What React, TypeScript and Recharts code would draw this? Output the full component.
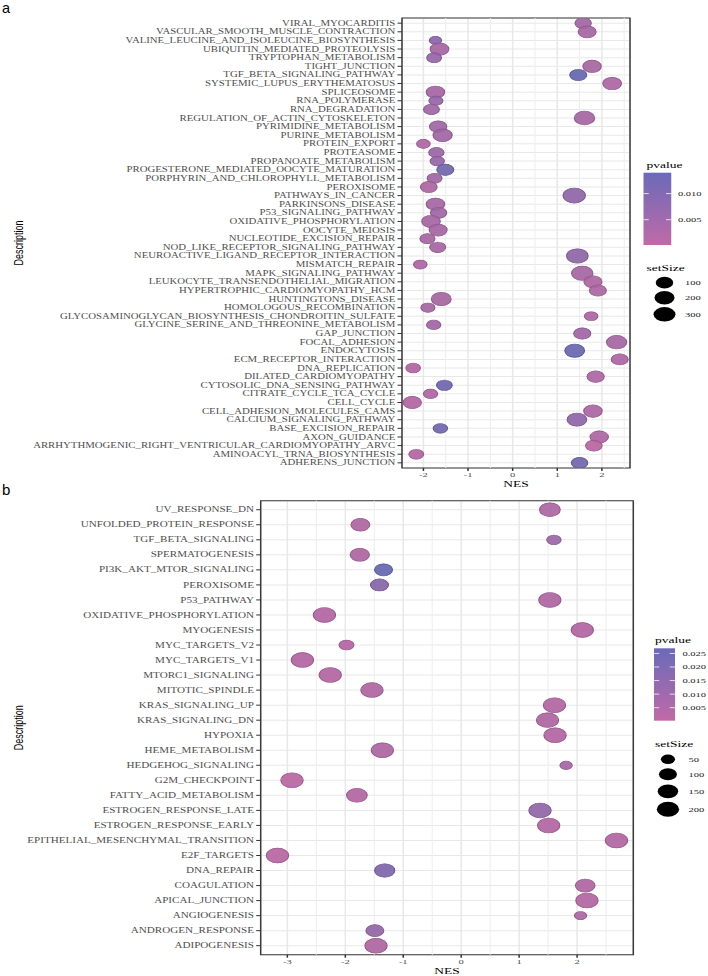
import React from 'react';
import {
  ScatterChart, Scatter, XAxis, YAxis, ZAxis, CartesianGrid, ReferenceLine, ReferenceArea, Cell,
} from 'recharts';

// ---- panel a : KEGG ----
const termsA = [
  'VIRAL_MYOCARDITIS', 'VASCULAR_SMOOTH_MUSCLE_CONTRACTION', 'VALINE_LEUCINE_AND_ISOLEUCINE_BIOSYNTHESIS',
  'UBIQUITIN_MEDIATED_PROTEOLYSIS', 'TRYPTOPHAN_METABOLISM', 'TIGHT_JUNCTION', 'TGF_BETA_SIGNALING_PATHWAY',
  'SYSTEMIC_LUPUS_ERYTHEMATOSUS', 'SPLICEOSOME', 'RNA_POLYMERASE', 'RNA_DEGRADATION',
  'REGULATION_OF_ACTIN_CYTOSKELETON', 'PYRIMIDINE_METABOLISM', 'PURINE_METABOLISM', 'PROTEIN_EXPORT',
  'PROTEASOME', 'PROPANOATE_METABOLISM', 'PROGESTERONE_MEDIATED_OOCYTE_MATURATION',
  'PORPHYRIN_AND_CHLOROPHYLL_METABOLISM', 'PEROXISOME', 'PATHWAYS_IN_CANCER', 'PARKINSONS_DISEASE',
  'P53_SIGNALING_PATHWAY', 'OXIDATIVE_PHOSPHORYLATION', 'OOCYTE_MEIOSIS', 'NUCLEOTIDE_EXCISION_REPAIR',
  'NOD_LIKE_RECEPTOR_SIGNALING_PATHWAY', 'NEUROACTIVE_LIGAND_RECEPTOR_INTERACTION', 'MISMATCH_REPAIR',
  'MAPK_SIGNALING_PATHWAY', 'LEUKOCYTE_TRANSENDOTHELIAL_MIGRATION', 'HYPERTROPHIC_CARDIOMYOPATHY_HCM',
  'HUNTINGTONS_DISEASE', 'HOMOLOGOUS_RECOMBINATION', 'GLYCOSAMINOGLYCAN_BIOSYNTHESIS_CHONDROITIN_SULFATE',
  'GLYCINE_SERINE_AND_THREONINE_METABOLISM', 'GAP_JUNCTION', 'FOCAL_ADHESION', 'ENDOCYTOSIS',
  'ECM_RECEPTOR_INTERACTION', 'DNA_REPLICATION', 'DILATED_CARDIOMYOPATHY', 'CYTOSOLIC_DNA_SENSING_PATHWAY',
  'CITRATE_CYCLE_TCA_CYCLE', 'CELL_CYCLE', 'CELL_ADHESION_MOLECULES_CAMS', 'CALCIUM_SIGNALING_PATHWAY',
  'BASE_EXCISION_REPAIR', 'AXON_GUIDANCE', 'ARRHYTHMOGENIC_RIGHT_VENTRICULAR_CARDIOMYOPATHY_ARVC',
  'AMINOACYL_TRNA_BIOSYNTHESIS', 'ADHERENS_JUNCTION',
];
const nesA = [
  1.58, 1.67, -1.73, -1.64, -1.76, 1.78, 1.47, 2.23, -1.73, -1.72, -1.82, 1.61, -1.67, -1.57, -2.0,
  -1.71, -1.69, -1.51, -1.75, -1.88, 1.38, -1.73, -1.66, -1.83, -1.67, -1.91, -1.68, 1.45, -2.07,
  1.56, 1.8, 1.91, -1.6, -1.9, 1.76, -1.77, 1.56, 2.33, 1.39, 2.4, -2.23, 1.86, -1.53, -1.84, -2.25,
  1.8, 1.44, -1.62, 1.94, 1.82, -2.16, 1.5,
];
const setSizeA = [
  70, 115, 11, 138, 40, 132, 86, 140, 127, 29, 59, 216, 98, 159, 24, 48, 33, 86, 42, 78, 328, 130,
  68, 135, 113, 44, 62, 272, 23, 267, 118, 85, 185, 28, 22, 31, 90, 201, 183, 84, 36, 92, 56, 32,
  128, 134, 178, 35, 129, 76, 41, 75,
];
const pvalueA = [
  0.004, 0.003, 0.008, 0.003, 0.006, 0.003, 0.014, 0.002, 0.003, 0.006, 0.004, 0.003, 0.004, 0.004,
  0.002, 0.005, 0.006, 0.012, 0.004, 0.002, 0.007, 0.003, 0.004, 0.003, 0.003, 0.003, 0.003, 0.007,
  0.002, 0.003, 0.002, 0.002, 0.003, 0.003, 0.002, 0.004, 0.004, 0.003, 0.0135, 0.002, 0.001, 0.002,
  0.0125, 0.002, 0.001, 0.002, 0.007, 0.012, 0.002, 0.00015, 0.001, 0.012,
];
const nesTicksA = [-2, -1, 0, 1, 2];
const minorTicksA = [-1.5, -0.5, 0.5, 1.5, 2.5];
const pTicksA = [0.005, 0.01];
const sizeTicksA = [100, 200, 300];

// ---- panel b : HALLMARK ----
const termsB = [
  'UV_RESPONSE_DN', 'UNFOLDED_PROTEIN_RESPONSE', 'TGF_BETA_SIGNALING', 'SPERMATOGENESIS',
  'PI3K_AKT_MTOR_SIGNALING', 'PEROXISOME', 'P53_PATHWAY', 'OXIDATIVE_PHOSPHORYLATION', 'MYOGENESIS',
  'MYC_TARGETS_V2', 'MYC_TARGETS_V1', 'MTORC1_SIGNALING', 'MITOTIC_SPINDLE', 'KRAS_SIGNALING_UP',
  'KRAS_SIGNALING_DN', 'HYPOXIA', 'HEME_METABOLISM', 'HEDGEHOG_SIGNALING', 'G2M_CHECKPOINT',
  'FATTY_ACID_METABOLISM', 'ESTROGEN_RESPONSE_LATE', 'ESTROGEN_RESPONSE_EARLY',
  'EPITHELIAL_MESENCHYMAL_TRANSITION', 'E2F_TARGETS', 'DNA_REPAIR', 'COAGULATION', 'APICAL_JUNCTION',
  'ANGIOGENESIS', 'ANDROGEN_RESPONSE', 'ADIPOGENESIS',
];
const nesB = [
  1.53, -1.74, 1.6, -1.75, -1.34, -1.41, 1.53, -2.36, 2.09, -1.98, -2.74, -2.26, -1.54, 1.61, 1.49,
  1.62, -1.36, 1.81, -2.92, -1.8, 1.36, 1.51, 2.68, -3.17, -1.32, 2.14, 2.17, 2.06, -1.49, -1.47,
];
const setSizeB = [
  155, 115, 52, 125, 100, 100, 195, 198, 195, 58, 198, 196, 196, 195, 190, 196, 195, 35, 196, 155,
  195, 195, 198, 198, 145, 130, 195, 35, 98, 195,
];
const pvalueB = [
  0.004, 0.003, 0.009, 0.003, 0.0269, 0.016, 0.003, 0.002, 0.002, 0.002, 0.002, 0.002, 0.003, 0.002,
  0.003, 0.002, 0.004, 0.006, 0.0002, 0.002, 0.013, 0.002, 0.002, 0.0002, 0.019, 0.003, 0.002, 0.004,
  0.012, 0.003,
];
const nesTicksB = [-3, -2, -1, 0, 1, 2];
const minorTicksB = [-2.5, -1.5, -0.5, 0.5, 1.5, 2.5];
const pTicksB = [0.005, 0.01, 0.015, 0.02, 0.025];
const sizeTicksB = [50, 100, 150, 200];

const SERIF = "'Liberation Serif', 'Times New Roman', serif";
const SANS = "'Liberation Sans', Arial, sans-serif";
const LOW = [192, 106, 168];
const HIGH = [106, 106, 184];
const STRETCH = 1.5;

function mix(t: number, k = 1) {
  const c = LOW.map((lo, i) => Math.round((lo + (HIGH[i] - lo) * t) * k));
  return `rgb(${c[0]},${c[1]},${c[2]})`;
}

interface PanelProps {
  id: string;
  terms: string[];
  nes: number[];
  sizes: number[];
  pvals: number[];
  xDomain: [number, number];
  xTicks: number[];
  minorTicks: number[];
  pTicks: number[];
  sizeTicks: number[];
  height: number;
  top: number;
  right: number;
  yWidth: number;
  xHeight: number;
  labelFont: number;
  nesOffset: number;
  sizeA: number;
  sizeB: number;
  lg: {
    x: number; pTitle: number; barX: number; barW: number; barTop: number; barBottom: number;
    labelX: number; sTitle: number; keyX: number; keyY: number[]; keyLabelX: number;
  };
}

function Panel(p: PanelProps) {
  const n = p.terms.length;
  const points = p.terms.map((term, i) => ({
    term, nes: p.nes[i], row: n - 1 - i, setSize: p.sizes[i], pvalue: p.pvals[i],
  }));
  const rows = points.map((d) => d.row).sort((a, b) => a - b);
  const pMin = Math.min(...p.pvals);
  const pMax = Math.max(...p.pvals);
  const zDomain = [Math.min(...p.sizes), Math.max(...p.sizes)];
  const area = (s: number) => Math.PI * (p.sizeA + p.sizeB * Math.sqrt(s));
  const zRange = [area(zDomain[0]), area(zDomain[1])];
  const keyR = (s: number) => Math.sqrt(area(s) / Math.PI);
  const W = 708 / STRETCH;
  const { lg } = p;
  const barY = (v: number) => lg.barBottom - ((v - pMin) / (pMax - pMin)) * (lg.barBottom - lg.barTop);

  return (
    <div style={{ position: 'relative', width: W, height: p.height, transform: `scaleX(${STRETCH})`, transformOrigin: '0 0' }}>
      <ScatterChart width={W} height={p.height} margin={{ top: p.top, right: p.right, bottom: 0, left: 0 }}>
        <CartesianGrid stroke="#E8E8E8" strokeWidth={1} />
        {p.minorTicks.map((v) => (
          <ReferenceLine key={v} x={v} stroke="#EEEEEE" strokeWidth={0.7} />
        ))}
        <XAxis
          type="number"
          dataKey="nes"
          domain={p.xDomain}
          allowDataOverflow
          ticks={p.xTicks}
          axisLine={false}
          tickSize={3}
          tickMargin={1}
          tickLine={{ stroke: '#333' }}
          height={p.xHeight}
          tick={{ fontSize: 7, fill: '#4D4D4D', fontFamily: SERIF }}
          label={{
            value: 'NES', position: 'insideBottom', offset: p.nesOffset, fontSize: 9, fill: '#000',
            style: { fontFamily: SERIF, fontWeight: 400 },
          }}
        />
        <YAxis
          type="number"
          dataKey="row"
          domain={[-0.6, n - 0.4]}
          allowDataOverflow
          ticks={rows}
          interval={0}
          width={p.yWidth}
          axisLine={false}
          tickSize={3}
          tickMargin={1.5}
          tickLine={{ stroke: '#333' }}
          tickFormatter={(v: number) => p.terms[n - 1 - v]}
          tick={{ fontSize: p.labelFont, fill: '#4D4D4D', fontFamily: SERIF }}
          label={{
            value: 'Description', angle: -90, position: 'insideLeft', offset: 12,
            fontSize: 9, fill: '#000', style: { textAnchor: 'middle', fontFamily: SANS },
          }}
        />
        <ZAxis type="number" dataKey="setSize" scale="sqrt" domain={zDomain} range={zRange} />
        <Scatter data={points} isAnimationActive={false}>
          {points.map((d) => {
            const t = (d.pvalue - pMin) / (pMax - pMin);
            return <Cell key={d.term} fill={mix(t, 0.95)} fillOpacity={0.92} stroke={mix(t, 0.82)} strokeWidth={0.7} />;
          })}
        </Scatter>
        <ReferenceArea
          x1={p.xDomain[0]} x2={p.xDomain[1]} y1={-0.6} y2={n - 0.4}
          fill="none" stroke="#3A3A3A" strokeWidth={1}
        />
      </ScatterChart>
      <svg width={W} height={p.height} style={{ position: 'absolute', left: 0, top: 0, pointerEvents: 'none' }}>
        <defs>
          <linearGradient id={`grad-${p.id}`} x1="0" y1="1" x2="0" y2="0">
            <stop offset="0" stopColor={mix(0)} />
            <stop offset="1" stopColor={mix(1)} />
          </linearGradient>
        </defs>
        <text x={lg.x} y={lg.pTitle} fontSize={9} fontFamily={SERIF} fontWeight={400} fill="#000">pvalue</text>
        <rect x={lg.barX} y={lg.barTop} width={lg.barW} height={lg.barBottom - lg.barTop} fill={`url(#grad-${p.id})`} />
        {p.pTicks.map((v) => (
          <g key={v}>
            <line x1={lg.barX} x2={lg.barX + 3.5} y1={barY(v)} y2={barY(v)} stroke="#fff" strokeWidth={0.6} />
            <line x1={lg.barX + lg.barW - 3.5} x2={lg.barX + lg.barW} y1={barY(v)} y2={barY(v)} stroke="#fff" strokeWidth={0.6} />
            <text x={lg.labelX} y={barY(v) + 2.4} fontSize={7} fontFamily={SERIF} fill="#222">{v.toFixed(3)}</text>
          </g>
        ))}
        <text x={lg.x} y={lg.sTitle} fontSize={9} fontFamily={SERIF} fontWeight={400} fill="#000">setSize</text>
        {p.sizeTicks.map((s, i) => (
          <g key={s}>
            <circle cx={lg.keyX} cy={lg.keyY[i]} r={keyR(s)} fill="#000" />
            <text x={lg.keyLabelX} y={lg.keyY[i] + 2.4} fontSize={7} fontFamily={SERIF} fill="#222">{s}</text>
          </g>
        ))}
      </svg>
    </div>
  );
}

export default function App() {
  return (
    <div style={{ position: 'absolute', left: 0, top: 0, width: 708, height: 976, background: '#fff' }}>
      <svg width={708} height={976} style={{ position: 'absolute', left: 0, top: 0 }}>
        <text x={2} y={13} fontSize={14.5} fontFamily={SANS} fill="#000">a</text>
        <text x={2} y={495} fontSize={15} fontFamily={SANS} fill="#000">b</text>
      </svg>
      <div style={{ position: 'absolute', left: 0, top: 0 }}>
        <Panel
          id="a"
          terms={termsA} nes={nesA} sizes={setSizeA} pvals={pvalueA}
          xDomain={[-2.48, 2.63]} xTicks={nesTicksA} minorTicks={minorTicksA}
          pTicks={pTicksA} sizeTicks={sizeTicksA}
          height={490} top={18} right={52} yWidth={268} xHeight={22} labelFont={7.2} nesOffset={3}
          sizeA={7.65} sizeB={2.64}
          lg={{
            x: 431, pTitle: 168, barX: 429, barW: 18.5, barTop: 172.7, barBottom: 245, labelX: 452,
            sTitle: 271, keyX: 443, keyY: [282.7, 297.7, 314.3], keyLabelX: 456.7,
          }}
        />
      </div>
      <div style={{ position: 'absolute', left: 0, top: 480 }}>
        <Panel
          id="b"
          terms={termsB} nes={nesB} sizes={setSizeB} pvals={pvalueB}
          xDomain={[-3.46, 2.97]} xTicks={nesTicksB} minorTicks={minorTicksB}
          pTicks={pTicksB} sizeTicks={sizeTicksB}
          height={496} top={20.7} right={49.8} yWidth={173.8} xHeight={21.3} labelFont={7.4} nesOffset={2.3}
          sizeA={-11.1} sizeB={4.71}
          lg={{
            x: 436.7, pTitle: 162.7, barX: 436, barW: 14, barTop: 168.3, barBottom: 240.7, labelX: 455,
            sTitle: 267.5, keyX: 445.3, keyY: [279.3, 294.3, 311.3, 329.3], keyLabelX: 459,
          }}
        />
      </div>
    </div>
  );
}
